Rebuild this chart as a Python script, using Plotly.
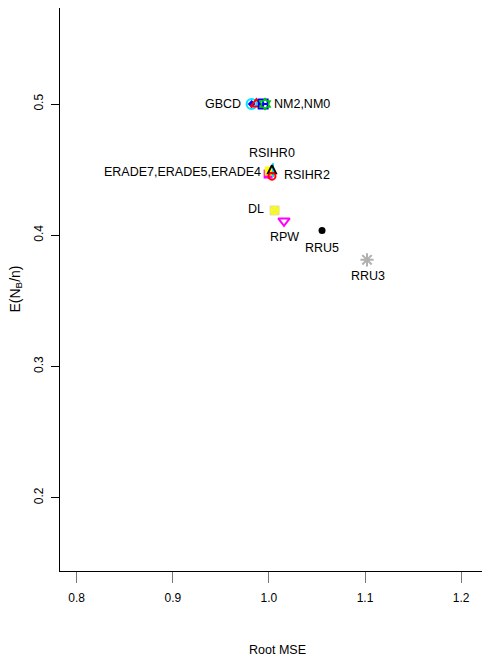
import plotly.graph_objects as go

# ---- data ----
point_names = ["GBCD", "GBCD-d", "GBCD-t", "NM2", "NM0",
               "ERADE7", "ERADE5", "ERADE4", "RSIHR0", "RSIHR2",
               "DL", "RPW", "RRU5", "RRU3"]
root_mse = [0.982, 0.982, 0.987, 0.994, 0.996,
            0.9992, 1.0004, 1.0043, 1.0032, 1.0032,
            1.0059, 1.0157, 1.0553, 1.1021]
e_nb_n = [0.500, 0.500, 0.500, 0.500, 0.500,
          0.4466, 0.4489, 0.4496, 0.4534, 0.4450,
          0.4189, 0.4109, 0.4036, 0.3813]

label_texts = ["GBCD", "NM2,NM0", "RSIHR0", "ERADE7,ERADE5,ERADE4",
               "RSIHR2", "DL", "RPW", "RRU5", "RRU3"]
label_points = ["GBCD", "NM0", "RSIHR0", "ERADE5",
                "RSIHR2", "DL", "RPW", "RRU5", "RRU3"]

x_ticks = [0.8, 0.9, 1.0, 1.1, 1.2]
y_ticks = [0.2, 0.3, 0.4, 0.5]

# ---- styles ----
marker_style = {
    "GBCD":   dict(symbol="circle-open", color="#00E5FF", size=10, line=dict(width=2, color="#00E5FF")),
    "GBCD-d": dict(symbol="diamond", color="#0000FF", size=6),
    "GBCD-t": dict(symbol="triangle-up-open", color="#FF0000", size=10, line=dict(width=2, color="#FF0000")),
    "NM2":    dict(symbol="square-cross-open", color="#0000FF", size=9, line=dict(width=2, color="#0000FF")),
    "NM0":    dict(symbol="hexagram-open", color="#00CC00", size=9, line=dict(width=1.5, color="#00CC00")),
    "ERADE7": dict(symbol="square", color="#FF00FF", size=9),
    "ERADE5": dict(symbol="square", color="#FFFF00", size=9),
    "ERADE4": dict(symbol="line-ns-open", color="#00E5FF", size=10, line=dict(width=2, color="#00E5FF")),
    "RSIHR0": dict(symbol="arrow-up-open", color="#000000", size=8, line=dict(width=2, color="#000000")),
    "RSIHR2": dict(symbol="circle-open", color="#FF0000", size=7, line=dict(width=2, color="#FF0000")),
    "DL":     dict(symbol="square-x", color="#FFFF00", size=9, line=dict(width=1, color="#E0E0A0")),
    "RPW":    dict(symbol="triangle-down-open", color="#FF00FF", size=10, line=dict(width=2, color="#FF00FF")),
    "RRU5":   dict(symbol="circle", color="#000000", size=7),
    "RRU3":   dict(symbol="asterisk-open", color="#B0B0B0", size=11, line=dict(width=2, color="#B0B0B0")),
}

# label placement: (xanchor, yanchor, xshift px, yshift px)
label_place = {
    "GBCD": ("right", "middle", -9, 0),
    "NM2,NM0": ("left", "middle", 7, 0),
    "RSIHR0": ("center", "middle", 0, 12),
    "ERADE7,ERADE5,ERADE4": ("right", "middle", -6, -1),
    "RSIHR2": ("left", "middle", 10, 1),
    "DL": ("right", "middle", -9, 1),
    "RPW": ("center", "middle", 1, -16),
    "RRU5": ("center", "middle", 0, -17),
    "RRU3": ("center", "middle", 1, -16),
}

FONT = "Liberation Sans, Arial, sans-serif"

fig = go.Figure()
for name, x, y in zip(point_names, root_mse, e_nb_n):
    fig.add_trace(go.Scatter(x=[x], y=[y], mode="markers", name=name,
                             marker=marker_style[name], showlegend=False,
                             hoverinfo="skip"))

lookup = dict(zip(point_names, zip(root_mse, e_nb_n)))
for text, pname in zip(label_texts, label_points):
    xa, ya, xs, ys = label_place[text]
    px, py = lookup[pname]
    fig.add_annotation(x=px, y=py, text=text, showarrow=False,
                       xanchor=xa, yanchor=ya, xshift=xs, yshift=ys,
                       font=dict(family=FONT, size=12.5, color="black"))

# axis titles
fig.add_annotation(xref="paper", yref="paper", x=0.505, y=0, yanchor="middle",
                   yshift=-79, text="Root MSE", showarrow=False,
                   font=dict(family=FONT, size=12.5, color="black"))
fig.add_annotation(xref="paper", yref="paper", x=0, y=0.5, xanchor="center",
                   xshift=-45, textangle=-90, text="E(N<sub>B</sub>/n)",
                   showarrow=False, font=dict(family=FONT, size=14, color="black"))

# page body has an 8px margin: the figure is sized and shifted to compensate
fig.update_layout(
    width=482, height=658,
    margin=dict(l=52, r=0, t=0, b=95),
    paper_bgcolor="white", plot_bgcolor="white",
    showlegend=False,
)
fig.update_xaxes(range=[0.78262, 1.23008], tickvals=x_ticks,
                 ticktext=[f"{v:.1f}" for v in x_ticks],
                 showgrid=False, zeroline=False,
                 showline=True, linecolor="black", linewidth=1, mirror=True,
                 ticks="outside", ticklen=11, tickcolor="#777", tickwidth=1,
                 ticklabelstandoff=5,
                 tickfont=dict(family=FONT, size=12, color="black"))
fig.update_yaxes(range=[0.14413, 0.57317], tickvals=y_ticks,
                 ticktext=[f"{v:.1f}" for v in y_ticks],
                 showgrid=False, zeroline=False,
                 showline=True, linecolor="black", linewidth=1, mirror=False,
                 ticks="outside", ticklen=8, tickcolor="black", tickwidth=1,
                 tickangle=-90, ticklabelstandoff=3,
                 tickfont=dict(family=FONT, size=12, color="black"))

fig.write_html("out.html")
